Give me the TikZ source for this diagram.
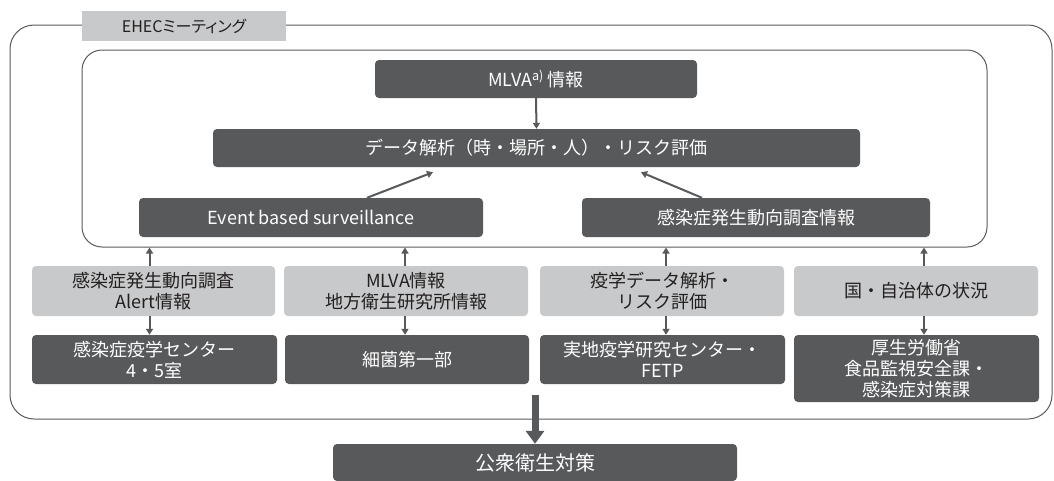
\documentclass[tikz,border=0pt]{standalone}
\usepackage{fontspec}
\setmainfont{Noto Sans CJK JP}
\newfontfamily\paltfont[RawFeature=+palt]{Noto Sans CJK JP}
\usetikzlibrary{arrows.meta,positioning,calc}
\definecolor{darkbox}{HTML}{58595B}
\definecolor{lightbox}{HTML}{C8C9CA}
\definecolor{frame}{HTML}{5A5A5A}
\definecolor{txt}{HTML}{231F20}
\tikzset{
  darknode/.style={fill=darkbox, text=white, rounded corners=4pt, align=center, inner sep=0pt,
    font=\fontsize{18}{21}\selectfont},
  lightnode/.style={fill=lightbox, text=txt, rounded corners=4pt, align=center, inner sep=0pt,
    font=\fontsize{18}{21}\selectfont},
  arr/.style={draw=darkbox, line width=2pt, -{Triangle[width=7pt,length=6pt]}},
  bigarr/.style={draw=darkbox, line width=7pt, -{Triangle[width=18pt,length=13pt]}},
}
\begin{document}
\begin{tikzpicture}[x=1pt,y=-1pt]
\useasboundingbox (0,0) rectangle (1054,480);
% outer frame
\node[draw=frame, line width=1pt, rounded corners=24pt, minimum width=1042pt, minimum height=394pt, inner sep=0pt] (outer) at (531,222) {};
\node[fill=lightbox, text=txt, minimum width=204pt, minimum height=30pt, inner sep=0pt,
  font=\paltfont\fontsize{16}{18}\selectfont] (label) at (184,26) {EHECミーティング};
% inner frame
\node[draw=frame, line width=1pt, rounded corners=20pt, minimum width=905pt, minimum height=197pt, inner sep=0pt] (inner) at (534.5,148.5) {};
% top nodes
\node[darknode, minimum width=322pt, minimum height=38pt] (mlva) at (536,79) {MLVA\textsuperscript{a)} 情報};
\node[darknode, minimum width=647pt, minimum height=38pt] (data) at (536.5,148) {データ解析（時・場所・人）・リスク評価};
\node[darknode, minimum width=344pt, minimum height=39pt] (ebs) at (311,217.5) {Event based surveillance};
\node[darknode, minimum width=348pt, minimum height=39pt] (kan) at (756,217.5) {感染症発生動向調査情報};
% light row
\node[lightnode, minimum width=243pt, minimum height=50pt] (l1) at (153.5,291) {感染症発生動向調査\\Alert情報};
\node[lightnode, minimum width=244pt, minimum height=50pt] (l2) at (406,291) {MLVA情報\\地方衛生研究所情報};
\node[lightnode, minimum width=244pt, minimum height=50pt] (l3) at (662,291) {疫学データ解析・\\リスク評価};
\node[lightnode, minimum width=244pt, minimum height=50pt] (l4) at (916,291) {国・自治体の状況};
% dark row
\node[darknode, minimum width=245pt, minimum height=49pt] (d1) at (154.5,359.5) {感染症疫学センター\\4・5室};
\node[darknode, minimum width=244pt, minimum height=49pt] (d2) at (407,359.5) {細菌第一部};
\node[darknode, minimum width=245pt, minimum height=49pt] (d3) at (662.5,359.5) {実地疫学研究センター・\\FETP};
\node[darknode, minimum width=245pt, minimum height=67pt] (d4) at (916.5,368.5) {厚生労働省\\食品監視安全課・\\感染症対策課};
% bottom
\node[darknode, minimum width=404pt, minimum height=37pt, font=\fontsize{20}{24}\selectfont] (pub) at (535,462.5) {公衆衛生対策};
% arrows
\draw[arr] (mlva.south) -- (data.north);
\draw[arr] ([xshift=56pt]ebs.north) -- ([xshift=-103.5pt,yshift=-5pt]data.south);
\draw[arr] ([xshift=-54pt]kan.north) -- ([xshift=104.5pt,yshift=-5pt]data.south);
\draw[arr] ([xshift=-4pt]l1.north) -- ([xshift=-4pt]l1.north |- inner.south);
\draw[arr] ([xshift=-1pt]l2.north) -- ([xshift=-1pt]l2.north |- inner.south);
\draw[arr] ([xshift=4pt]l3.north) -- ([xshift=4pt]l3.north |- inner.south);
\draw[arr] ([xshift=8pt]l4.north) -- ([xshift=8pt]l4.north |- inner.south);
\draw[arr] ([xshift=-4pt]l1.south) -- ([xshift=-4pt]l1.south |- d1.north);
\draw[arr] ([xshift=-1pt]l2.south) -- ([xshift=-1pt]l2.south |- d2.north);
\draw[arr] ([xshift=4pt]l3.south) -- ([xshift=4pt]l3.south |- d3.north);
\draw[arr] ([xshift=8pt]l4.south) -- ([xshift=8pt]l4.south |- d4.north);
\coordinate (bs) at (535,395);
\draw[bigarr] (bs) -- (pub.north);
\end{tikzpicture}
\end{document}
